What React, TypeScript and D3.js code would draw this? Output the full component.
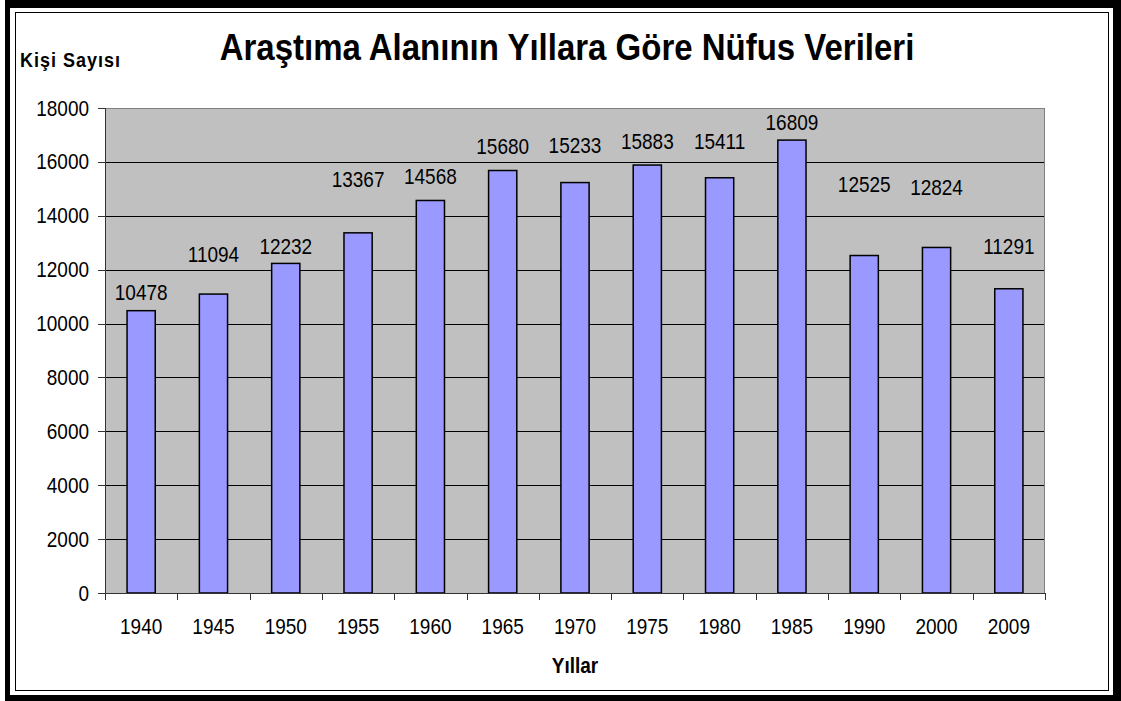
import React from "react";
import * as d3 from "d3";

const years = ["1940","1945","1950","1955","1960","1965","1970","1975","1980","1985","1990","2000","2009"];
const population = [10478,11094,12232,13367,14568,15680,15233,15883,15411,16809,12525,12824,11291];
// where each data label sits (its baseline), in data units, as placed in the original chart
const labelAnchor = [10874,12285,12582,15068,15180,16293,16341,16479,16479,17184,14883,14771,12582];
const yTicks = [0,2000,4000,6000,8000,10000,12000,14000,16000,18000];

const title = "Araştıma Alanının Yıllara Göre Nüfus Verileri";
const yTitle = "Kişi Sayısı";
const xTitle = "Yıllar";

const W = 1121, H = 701;
const plot = { left: 105, right: 1045, top: 108, bottom: 593 };
const FONT = "Arial, 'Liberation Sans', Helvetica, sans-serif";
const STRETCH = 1.17;

function T(props: { x: number; y: number; anchor?: string; size: number; bold?: boolean; sy?: number; len?: number; children: React.ReactNode }) {
  const { x, y, anchor = "start", size, bold, sy = STRETCH, len, children } = props;
  return (
    <text
      transform={`translate(${x},${y}) scale(1,${sy})`}
      textAnchor={anchor}
      fontSize={size}
      fontWeight={bold ? "bold" : "normal"}
      fill="#000"
      {...(len ? { textLength: len, lengthAdjust: "spacing" } : {})}
    >
      {children}
    </text>
  );
}

export default function App() {
  const x = d3.scaleBand<string>().domain(years).range([plot.left, plot.right]).padding(0);
  const y = d3.scaleLinear().domain([0, 18000]).range([plot.bottom, plot.top]);
  const bw = x.bandwidth() * 0.39;
  const boundaries = years.map((yr) => x(yr) as number).concat([plot.right]);
  const cx = (yr: string) => (x(yr) as number) + x.bandwidth() / 2;

  return (
    <svg width={W} height={H} style={{ position: "absolute", left: 0, top: 0, background: "#fff" }} fontFamily={FONT}>
      <rect x={5} y={0} width={W - 5} height={H} fill="#000" />
      <rect x={10} y={8} width={1103} height={687} fill="#fff" />
      <rect x={15.5} y={12.5} width={1093} height={678} fill="none" stroke="#000" strokeWidth={1} />

      <T x={567} y={60} anchor="middle" size={33} bold sy={1.12}>{title}</T>
      <T x={20} y={67} size={18} bold len={100}>{yTitle}</T>

      <rect x={plot.left} y={plot.top} width={plot.right - plot.left} height={plot.bottom - plot.top} fill="#C0C0C0" />
      {yTicks.filter((t) => t > 0 && t < 18000).map((t) => (
        <line key={"g" + t} x1={plot.left} x2={plot.right} y1={Math.round(y(t)) + 0.5} y2={Math.round(y(t)) + 0.5} stroke="#000" strokeWidth={1} />
      ))}
      <line x1={plot.left} x2={plot.right} y1={plot.top + 0.5} y2={plot.top + 0.5} stroke="#808080" strokeWidth={1} />
      <line x1={plot.right - 0.5} x2={plot.right - 0.5} y1={plot.top} y2={plot.bottom} stroke="#808080" strokeWidth={1} />

      {population.map((v, i) => (
        <rect key={"b" + i} x={cx(years[i]) - bw / 2} y={y(v)} width={bw} height={plot.bottom - y(v)} fill="#9999FF" stroke="#000" strokeWidth={1.5} />
      ))}

      <line x1={plot.left + 0.5} x2={plot.left + 0.5} y1={plot.top} y2={plot.bottom} stroke="#333" strokeWidth={1} />
      <line x1={plot.left} x2={plot.right} y1={plot.bottom + 0.5} y2={plot.bottom + 0.5} stroke="#333" strokeWidth={1} />

      {yTicks.map((t) => (
        <g key={"yt" + t}>
          <line x1={plot.left - 7} x2={plot.left} y1={Math.round(y(t)) + 0.5} y2={Math.round(y(t)) + 0.5} stroke="#333" strokeWidth={1} />
          <T x={89} y={y(t) + 7.5} anchor="end" size={19}>{t}</T>
        </g>
      ))}

      {boundaries.map((bx, i) => (
        <line key={"xt" + i} x1={Math.round(bx) + 0.5} x2={Math.round(bx) + 0.5} y1={plot.bottom} y2={plot.bottom + 7} stroke="#333" strokeWidth={1} />
      ))}
      {years.map((yr) => (
        <T key={"xl" + yr} x={cx(yr)} y={634} anchor="middle" size={19}>{yr}</T>
      ))}

      {population.map((v, i) => (
        <T key={"l" + i} x={cx(years[i])} y={y(labelAnchor[i])} anchor="middle" size={19}>{v}</T>
      ))}

      <T x={575} y={673} anchor="middle" size={19} bold>{xTitle}</T>
    </svg>
  );
}
